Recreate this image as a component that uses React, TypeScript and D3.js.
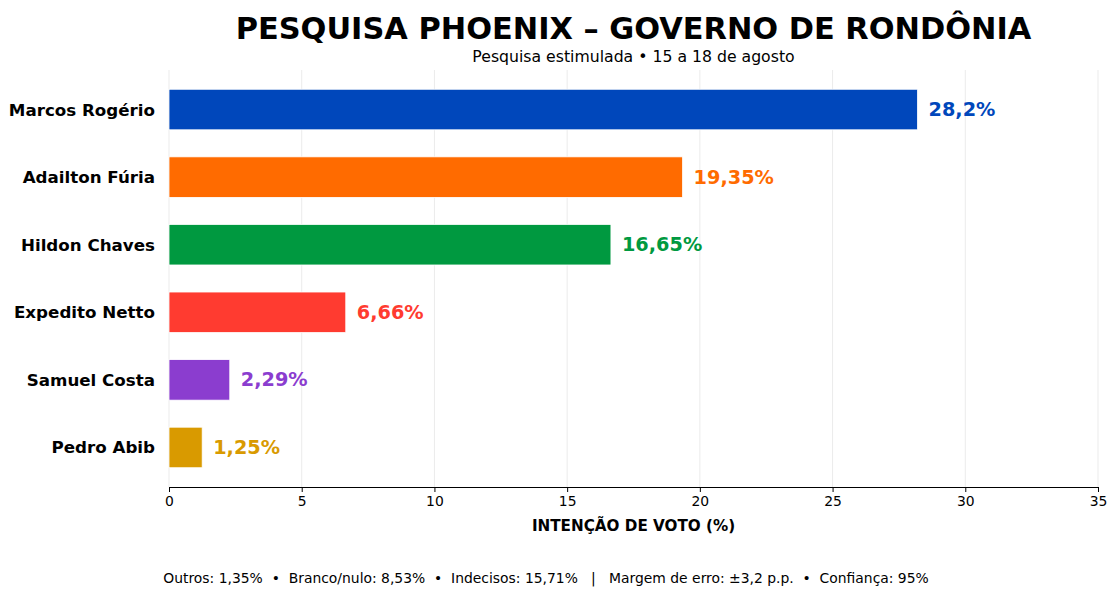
import * as d3 from 'd3';
import { useEffect, useRef } from 'react';

const candidates = ['Marcos Rogério', 'Adailton Fúria', 'Hildon Chaves', 'Expedito Netto', 'Samuel Costa', 'Pedro Abib'];
const votes = [28.2, 19.35, 16.65, 6.66, 2.29, 1.25];
const barColors = ['#0047BB', '#FF6B00', '#009940', '#FF3B30', '#8B3DCF', '#D99A00'];
const xTicks = [0, 5, 10, 15, 20, 25, 30, 35];

const title = 'PESQUISA PHOENIX – GOVERNO DE RONDÔNIA';
const subtitle = 'Pesquisa estimulada • 15 a 18 de agosto';
const xLabel = 'INTENÇÃO DE VOTO (%)';
const footer = 'Outros: 1,35%  •  Branco/nulo: 8,53%  •  Indecisos: 15,71%   |   Margem de erro: ±3,2 p.p.  •  Confiança: 95%';

const fmt = (v: number) => String(v).replace('.', ',') + '%';

export default function App() {
    const chartRef = useRef(null);

    useEffect(() => {
        // no page margin, no scrollbars
        document.body.style.margin = '0';
        document.body.style.overflow = 'hidden';

        const width = 1112;
        const height = 608;
        const margin = { top: 70, right: 14, bottom: 121, left: 169 };
        const innerW = width - margin.left - margin.right;
        const innerH = height - margin.top - margin.bottom;
        const font = 'DejaVu Sans, sans-serif';

        const root = d3.select(chartRef.current);
        root.selectAll('*').remove();

        const svgRoot = root
            .append('svg')
            .attr('width', width)
            .attr('height', height)
            .style('display', 'block')
            .style('font-family', font);

        svgRoot.append('rect').attr('width', width).attr('height', height).attr('fill', '#fff');

        const svg = svgRoot.append('g').attr('transform', `translate(${margin.left},${margin.top})`);

        const xScale = d3.scaleLinear().domain([0, 35]).range([0, innerW]);
        const yScale = d3
            .scaleBand()
            .domain(candidates)
            .range([0, innerH])
            .paddingInner(0.4)
            .paddingOuter(0.285);

        // grid
        svg
            .append('g')
            .selectAll('line')
            .data(xTicks)
            .join('line')
            .attr('x1', (d) => xScale(d))
            .attr('x2', (d) => xScale(d))
            .attr('y1', 0)
            .attr('y2', innerH)
            .attr('stroke', '#ebebeb')
            .attr('stroke-width', 1);

        // bars
        svg
            .append('g')
            .selectAll('rect')
            .data(votes)
            .join('rect')
            .attr('x', 0)
            .attr('y', (_, i) => yScale(candidates[i]))
            .attr('width', (d) => xScale(d))
            .attr('height', yScale.bandwidth())
            .attr('fill', (_, i) => barColors[i])
            .attr('stroke', '#fff')
            .attr('stroke-width', 0.8);

        // value labels
        svg
            .append('g')
            .selectAll('text')
            .data(votes)
            .join('text')
            .attr('x', (d) => xScale(d) + 11)
            .attr('y', (_, i) => yScale(candidates[i]) + yScale.bandwidth() / 2)
            .attr('dy', '0.34em')
            .attr('fill', (_, i) => barColors[i])
            .style('font-size', '19.3px')
            .style('font-weight', 'bold')
            .text((d) => fmt(d));

        // category labels
        svg
            .append('g')
            .selectAll('text')
            .data(candidates)
            .join('text')
            .attr('x', -14)
            .attr('y', (d) => yScale(d) + yScale.bandwidth() / 2)
            .attr('dy', '0.36em')
            .attr('text-anchor', 'end')
            .style('font-size', '16.7px')
            .style('font-weight', 'bold')
            .text((d) => d);

        // x axis
        const xAxis = svg
            .append('g')
            .attr('transform', `translate(0,${innerH})`)
            .call(d3.axisBottom(xScale).tickValues(xTicks).tickSize(5).tickPadding(4).tickFormat(d3.format('d')));
        xAxis.select('.domain').attr('stroke', '#000').attr('stroke-width', 1);
        xAxis.selectAll('.tick line').attr('stroke', '#000');
        xAxis.selectAll('text').style('font-size', '13.9px').style('font-family', font).attr('fill', '#000');

        svg
            .append('text')
            .attr('x', innerW / 2)
            .attr('y', innerH + 44)
            .attr('text-anchor', 'middle')
            .style('font-size', '15.2px')
            .style('font-weight', 'bold')
            .text(xLabel);

        // title + subtitle
        svgRoot
            .append('text')
            .attr('x', margin.left + innerW / 2)
            .attr('y', 39)
            .attr('text-anchor', 'middle')
            .style('font-size', '30.4px')
            .style('font-weight', 'bold')
            .text(title);

        svgRoot
            .append('text')
            .attr('x', margin.left + innerW / 2)
            .attr('y', 62)
            .attr('text-anchor', 'middle')
            .style('font-size', '15.7px')
            .text(subtitle);

        // footer
        svgRoot
            .append('text')
            .attr('x', 546)
            .attr('y', 583)
            .attr('text-anchor', 'middle')
            .style('font-size', '13.9px')
            .style('white-space', 'pre')
            .text(footer);

        return () => {
            d3.select(chartRef.current).selectAll('*').remove();
        };
    }, []);

    return <div ref={chartRef}></div>;
}
